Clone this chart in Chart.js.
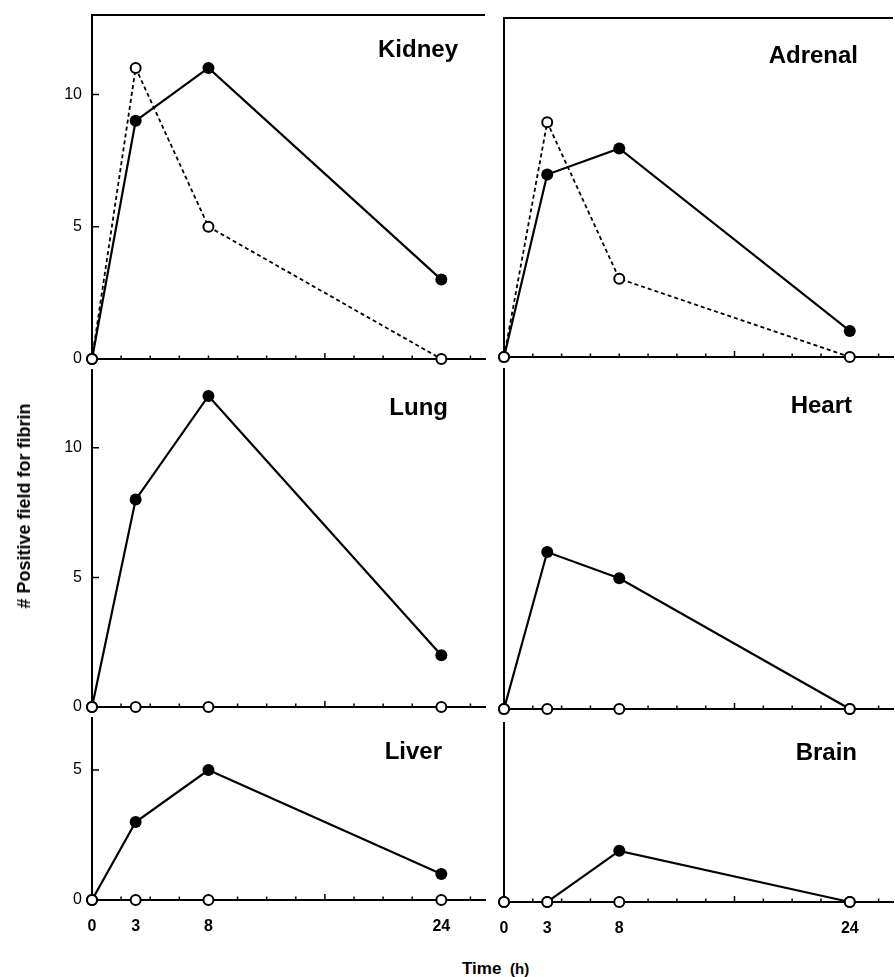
<!DOCTYPE html>
<html><head><meta charset="utf-8">
<script src="https://cdn.jsdelivr.net/npm/chart.js@4.4.1/dist/chart.umd.min.js"></script>
<style>
html,body{margin:0;padding:0;background:#fff;overflow:hidden;}
#wrap{position:relative;width:895px;height:977px;overflow:hidden;background:#fff;}
canvas{position:absolute;}
.lab{position:absolute;font-family:"Liberation Sans",Arial,Helvetica,sans-serif;font-weight:bold;color:#000;white-space:nowrap;}
.ttl{font-size:24px;line-height:24px;}
</style></head><body><div id="wrap"></div>
<script>
// ---- data ----
const hours = [0, 3, 8, 24];
const kidneyFilled = [0, 9, 11, 3];
const kidneyOpen = [0, 11, 5, 0];
const adrenalFilled = [0, 7, 8, 1];
const adrenalOpen = [0, 9, 3, 0];
const lungFilled = [0, 8, 12, 2];
const lungOpen = [0, 0, 0, 0];
const heartFilled = [0, 6, 5, 0];
const heartOpen = [0, 0, 0, 0];
const liverFilled = [0, 3, 5, 1];
const liverOpen = [0, 0, 0, 0];
const brainFilled = [0, 0, 2, 0];
const brainOpen = [0, 0, 0, 0];
const xTickLabels = [0, 3, 8, 24];
const xTickMarks = [2, 4, 6, 8, 10, 12, 14, 16, 18, 20, 22, 24, 26];
const yTickLabels = [0, 5, 10];
const yLabel = '# Positive field for fibrin';
const xLabel = 'Time';
const xUnit = '(h)';

// ---- layout (pixel geometry of each panel) ----
const panels = [
  {name:'Kidney',  filled:kidneyFilled,  open:kidneyOpen,  L:92,  R:489, T:15,  B:359, yMax:13, leftCol:true,  bottomRow:false, frameTop:true,  tRight:458, tMid:48.5},
  {name:'Adrenal', filled:adrenalFilled, open:adrenalOpen, L:504, R:900, T:18,  B:357, yMax:13, leftCol:false, bottomRow:false, frameTop:true,  tRight:858, tMid:54.5},
  {name:'Lung',    filled:lungFilled,    open:lungOpen,    L:92,  R:489, T:370, B:707, yMax:13, leftCol:true,  bottomRow:false, frameTop:false, tRight:448, tMid:406.5},
  {name:'Heart',   filled:heartFilled,   open:heartOpen,   L:504, R:900, T:369, B:709, yMax:13, leftCol:false, bottomRow:false, frameTop:false, tRight:852, tMid:404.5},
  {name:'Liver',   filled:liverFilled,   open:liverOpen,   L:92,  R:489, T:718, B:900, yMax:7,  leftCol:true,  bottomRow:true,  frameTop:false, tRight:442, tMid:751},
  {name:'Brain',   filled:brainFilled,   open:brainOpen,   L:504, R:900, T:723, B:902, yMax:7,  leftCol:false, bottomRow:true,  frameTop:false, tRight:857, tMid:752}
];

const FONT = '"Liberation Sans", Arial, Helvetica, sans-serif';
const wrap = document.getElementById('wrap');

const innerTicks = {
  id: 'innerTicks',
  beforeDatasetsDraw(chart, args, opts) {
    const {ctx, chartArea: a} = chart;
    const x = chart.scales.x, y = chart.scales.y;
    ctx.save();
    ctx.strokeStyle = '#000';
    ctx.lineWidth = 1.5;
    ctx.beginPath();
    xTickMarks.forEach(v => {
      const px = x.getPixelForValue(v);
      const len = v === 16 ? 6 : 3.5;
      ctx.moveTo(px, a.bottom);
      ctx.lineTo(px, a.bottom - len);
    });
    y.ticks.forEach(t => {
      if (t.value === 0) return;
      const py = y.getPixelForValue(t.value);
      const len = yTickLabels.includes(t.value) ? 7 : 3.5;
      ctx.moveTo(a.left, py);
      ctx.lineTo(a.left + len, py);
    });
    ctx.stroke();
    if (opts && opts.frameTop) {
      ctx.lineWidth = 2;
      ctx.beginPath();
      ctx.moveTo(a.left - 1, a.top);
      ctx.lineTo(a.right, a.top);
      ctx.stroke();
    }
    ctx.restore();
  }
};

panels.forEach(p => {
  const yW = p.leftCol ? 92 : 12;
  const padT = 8, padR = p.leftCol ? 3 : 0;
  const xH = p.bottomRow ? 50 : 12;
  const cw = (p.R - p.L) + yW + padR;
  const ch = (p.B - p.T) + padT + xH;
  const cv = document.createElement('canvas');
  cv.width = cw; cv.height = ch;
  cv.style.left = (p.L - yW) + 'px';
  cv.style.top = (p.T - padT) + 'px';
  cv.style.width = cw + 'px'; cv.style.height = ch + 'px';
  wrap.appendChild(cv);

  const allX = xTickLabels.concat(xTickMarks).filter((v, i, arr) => arr.indexOf(v) === i).sort((a, b) => a - b);

  new Chart(cv, {
    type: 'line',
    data: {
      datasets: [
        {
          label: p.name + ' open',
          data: hours.map((h, i) => ({x: h, y: p.open[i]})),
          borderColor: '#000', borderWidth: 1.8, borderDash: [4, 3],
          pointRadius: 5, pointBorderWidth: 2,
          pointBackgroundColor: '#fff', pointBorderColor: '#000',
          clip: false, order: 0, tension: 0
        },
        {
          label: p.name + ' filled',
          data: hours.map((h, i) => ({x: h, y: p.filled[i]})),
          borderColor: '#000', borderWidth: 2.2,
          pointRadius: 6, pointBorderWidth: 0,
          pointBackgroundColor: '#000', pointBorderColor: '#000',
          clip: false, order: 1, tension: 0
        }
      ]
    },
    options: {
      responsive: false, maintainAspectRatio: false, animation: false,
      layout: {padding: {left: 0, right: padR, top: padT, bottom: 0}},
      plugins: {legend: {display: false}, tooltip: {enabled: false}, title: {display: false},
        innerTicks: {frameTop: p.frameTop}},
      scales: {
        x: {
          type: 'linear', min: 0, max: 27,
          grid: {display: false, drawTicks: false},
          border: {display: true, color: '#000', width: 2},
          afterBuildTicks: s => { s.ticks = allX.map(v => ({value: v})); },
          afterFit: s => { s.height = xH; s.paddingLeft = 0; s.paddingRight = 0; s.paddingTop = 0; s.paddingBottom = 0; },
          ticks: {
            autoSkip: false, maxRotation: 0, padding: 17, color: '#000',
            font: {family: FONT, size: 16, weight: 'bold'},
            callback: v => (p.bottomRow && xTickLabels.includes(v)) ? String(v) : null
          }
        },
        y: {
          type: 'linear', min: 0, max: p.yMax,
          grid: {display: false, drawTicks: false},
          border: {display: true, color: '#000', width: 2},
          afterFit: s => { s.width = yW; s.paddingLeft = 0; s.paddingRight = 0; s.paddingTop = 0; s.paddingBottom = 0; },
          ticks: {
            stepSize: 1, autoSkip: false, padding: 10, color: '#000',
            font: {family: FONT, size: 16},
            callback: v => (p.leftCol && yTickLabels.includes(v)) ? String(v) : null
          }
        }
      }
    },
    plugins: [innerTicks]
  });

  const t = document.createElement('div');
  t.className = 'lab ttl';
  t.textContent = p.name;
  t.style.right = (895 - p.tRight) + 'px';
  t.style.top = (p.tMid - 11.7) + 'px';
  wrap.appendChild(t);
});

const yl = document.createElement('div');
yl.className = 'lab';
yl.style.fontSize = '18px';
yl.style.lineHeight = '18px';
yl.style.left = '24px';
yl.style.top = '506px';
yl.style.transform = 'translate(-50%,-50%) rotate(-90deg)';
yl.textContent = yLabel;
wrap.appendChild(yl);

const xl = document.createElement('div');
xl.className = 'lab';
xl.style.fontSize = '17px';
xl.style.lineHeight = '17px';
xl.style.left = '462px';
xl.style.top = '959.6px';
xl.appendChild(document.createTextNode(xLabel + ' '));
const sp = document.createElement('span');
sp.style.fontSize = '15px';
sp.style.marginLeft = '4px';
sp.textContent = xUnit;
xl.appendChild(sp);
wrap.appendChild(xl);
</script>
</body></html>
